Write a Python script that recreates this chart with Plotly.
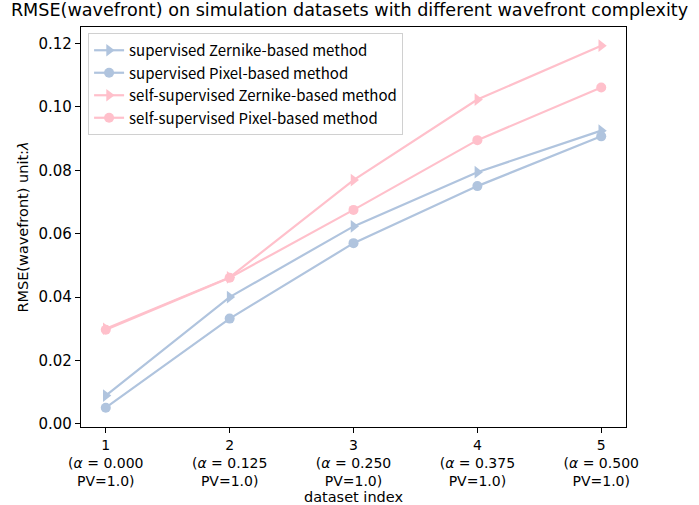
import plotly.graph_objects as go

# dataset index and the per-dataset wavefront complexity
dataset_index = [1, 2, 3, 4, 5]
alpha_values = ["0.000", "0.125", "0.250", "0.375", "0.500"]
pv_values = ["1.0", "1.0", "1.0", "1.0", "1.0"]

# RMSE(wavefront), unit: lambda
sup_zernike = [0.0089, 0.0400, 0.0623, 0.0794, 0.0925]
sup_pixel = [0.0051, 0.0332, 0.0570, 0.0750, 0.0907]
self_zernike = [0.0300, 0.0462, 0.0769, 0.1023, 0.1193]
self_pixel = [0.0297, 0.0461, 0.0675, 0.0895, 0.1061]

series_names = [
    "supervised Zernike-based method",
    "supervised Pixel-based method",
    "self-supervised Zernike-based method",
    "self-supervised Pixel-based method",
]

BLUE = "#b0c4de"   # lightsteelblue
PINK = "#ffc0cb"   # pink
FONT = "DejaVu Sans"

tick_text = [
    f"{i}<br>(<i>α</i> = {a}<br>PV={pv})"
    for i, a, pv in zip(dataset_index, alpha_values, pv_values)
]

fig = go.Figure()

styles = [
    (sup_zernike, BLUE, "triangle-right", 11),
    (sup_pixel, BLUE, "circle", 10),
    (self_zernike, PINK, "triangle-right", 11),
    (self_pixel, PINK, "circle", 10),
]
for name, (vals, col, sym, size) in zip(series_names, styles):
    fig.add_trace(go.Scatter(
        x=dataset_index,
        y=vals,
        mode="lines+markers",
        name=name,
        line=dict(color=col, width=2.2),
        marker=dict(color=col, symbol=sym, size=size),
        cliponaxis=False,
    ))

fig.update_layout(
    width=699,
    height=505,
    paper_bgcolor="white",
    plot_bgcolor="white",
    margin=dict(l=81, r=73, t=27, b=78),
    font=dict(family=FONT, size=15, color="black"),
    title=dict(
        text="RMSE(wavefront) on simulation datasets with different wavefront complexity",
        font=dict(family=FONT, size=17.6, color="black"),
        x=0.5, xanchor="center", y=0.992, yanchor="top",
    ),
    legend=dict(
        x=0.013, y=0.985, xanchor="left", yanchor="top",
        bgcolor="rgba(255,255,255,0.8)",
        bordercolor="#d0d0d0", borderwidth=1,
        font=dict(family="Noto Sans CJK JP", size=15, color="black"),
        tracegroupgap=0,
        itemwidth=30,
    ),
    showlegend=True,
)

fig.update_xaxes(
    range=[0.8, 5.2],
    tickvals=dataset_index,
    ticktext=tick_text,
    ticks="outside", ticklen=5, tickcolor="black",
    showline=True, linecolor="black", linewidth=1.3, mirror=True,
    showgrid=False, zeroline=False, automargin=False,
    tickfont=dict(family=FONT, size=14),
    title=dict(text="dataset index", font=dict(family=FONT, size=14.5), standoff=3),
)
fig.update_yaxes(
    range=[-0.001, 0.1252],
    tickvals=[0.0, 0.02, 0.04, 0.06, 0.08, 0.10, 0.12],
    tickformat=".2f",
    ticks="outside", ticklen=5, tickcolor="black",
    showline=True, linecolor="black", linewidth=1.3, mirror=True,
    showgrid=False, zeroline=False, automargin=False,
    tickfont=dict(family=FONT, size=15),
    title=dict(text="RMSE(wavefront) unit:<i>λ</i>", font=dict(family=FONT, size=14.5), standoff=6),
)

# the page's default body margin would shift the 699x505 figure; remove it
fig.write_html(
    "out.html",
    config={"displayModeBar": False},
    post_script="document.body.style.margin='0px';",
)
